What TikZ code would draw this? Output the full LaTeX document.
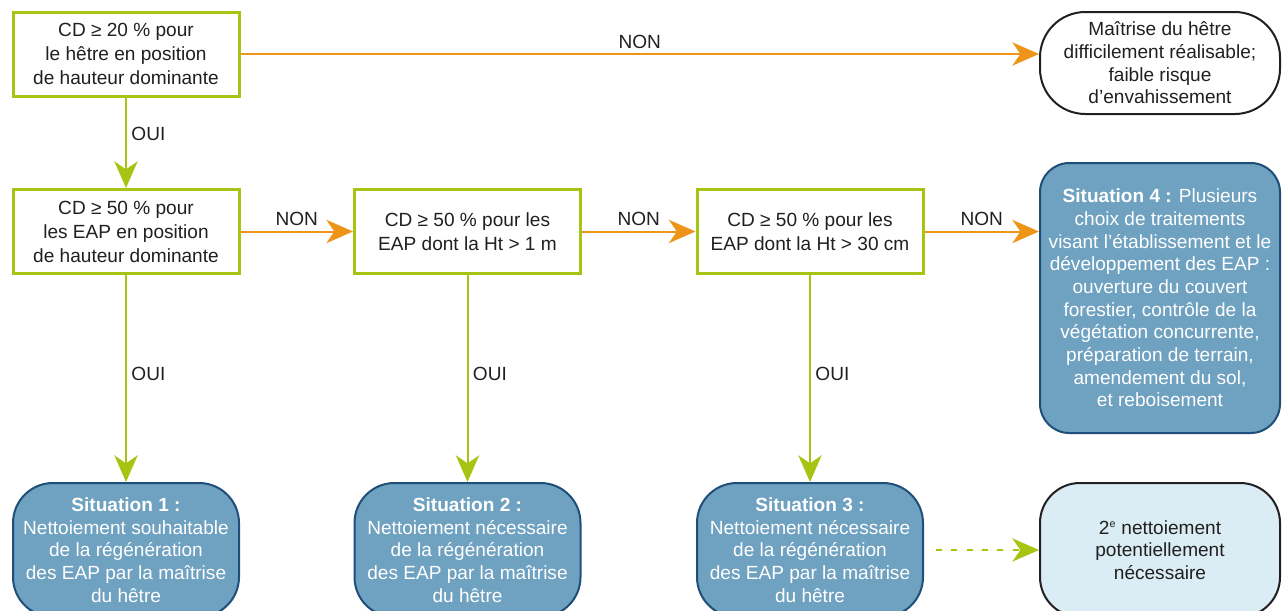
\documentclass[tikz,border=0pt]{standalone}
\usepackage{fontspec}
\setmainfont{Liberation Sans}
\usetikzlibrary{arrows.meta}
\definecolor{vert}{RGB}{168,196,18}
\definecolor{orangenon}{RGB}{238,148,24}
\definecolor{bleusit}{RGB}{111,161,192}
\definecolor{bleubord}{RGB}{31,78,121}
\definecolor{bleuclair}{RGB}{218,237,245}
\definecolor{texte}{RGB}{35,31,32}
\tikzset{
	police/.style={font=\fontsize{14.3}{18}\selectfont},
	serre/.style={font=\fontsize{14.3}{17}\selectfont},
	critere/.style={police, draw=vert, line width=2.25pt, fill=white, text=texte, align=center, inner sep=0pt, minimum width=169.5pt, minimum height=63pt},
	situation/.style={serre, draw=bleubord, line width=1.5pt, fill=bleusit, text=white, align=center, inner sep=0pt, rounded corners=30pt, minimum width=169.5pt, minimum height=100.5pt},
	issue/.style={serre, draw=texte, line width=1.5pt, text=texte, align=center, inner sep=0pt, minimum width=180pt},
	fleche/.style={line width=1.5pt, -{Stealth[length=20pt,width=17.5pt,inset=6pt]}},
	oui/.style={fleche, draw=vert, fill=vert},
	non/.style={fleche, draw=orangenon, fill=orangenon},
	etiquette/.style={police, text=texte},
}
\begin{document}
\begin{tikzpicture}[x=0.75pt, y=-0.75pt]
	\useasboundingbox (0,0) rectangle (1283,611);
	\clip (0,0) rectangle (1283,611);

	% criteres
	\node[critere] (hetre) at (126,54) {CD ≥ 20 \% pour\\le hêtre en position\\de hauteur dominante};
	\node[critere] (eap) at (126,231.5) {CD ≥ 50 \% pour\\les EAP en position\\de hauteur dominante};
	\node[critere] (unm) at (467.5,231.5) {CD ≥ 50 \% pour les\\EAP dont la Ht > 1 m};
	\node[critere] (trente) at (810,231.5) {CD ≥ 50 \% pour les\\EAP dont la Ht > 30 cm};

	% issues
	\node[issue, rounded corners=34pt, minimum height=76.5pt] (difficile) at (1160,63) {Maîtrise du hêtre\\difficilement réalisable;\\faible risque\\d’envahissement};
	\node[situation, rounded corners=22pt, minimum width=180pt, minimum height=202.5pt] (sit4) at (1160,298) {\textbf{Situation 4 :} Plusieurs\\choix de traitements\\visant l’établissement et le\\développement des EAP :\\ouverture du couvert\\forestier, contrôle de la\\végétation concurrente,\\préparation de terrain,\\amendement du sol,\\et reboisement};
	\node[situation] (sit1) at (126,550) {\textbf{Situation 1 :}\\Nettoiement souhaitable\\de la régénération\\des EAP par la maîtrise\\du hêtre};
	\node[situation] (sit2) at (467.5,550) {\textbf{Situation 2 :}\\Nettoiement nécessaire\\de la régénération\\des EAP par la maîtrise\\du hêtre};
	\node[situation] (sit3) at (810,550) {\textbf{Situation 3 :}\\Nettoiement nécessaire\\de la régénération\\des EAP par la maîtrise\\du hêtre};
	\node[issue, fill=bleuclair, rounded corners=30pt, minimum height=100.5pt] (second) at (1160,550) {2\textsuperscript{\fontsize{8}{8}\selectfont e} nettoiement\\potentiellement\\nécessaire};

	% NON
	\draw[non] (hetre.east) -- (hetre.east -| difficile.west) node[etiquette, midway, above] {NON};
	\draw[non] (eap.east) -- (unm.west) node[etiquette, midway, above] {NON};
	\draw[non] (unm.east) -- (trente.west) node[etiquette, midway, above] {NON};
	\draw[non] (trente.east) -- (trente.east -| sit4.west) node[etiquette, midway, above] {NON};

	% OUI
	\draw[oui] (hetre.south) -- (eap.north) node[etiquette, pos=0.4, right] {OUI};
	\draw[oui] (eap.south) -- (sit1.north) node[etiquette, pos=0.48, right] {OUI};
	\draw[oui] (unm.south) -- (sit2.north) node[etiquette, pos=0.48, right] {OUI};
	\draw[oui] (trente.south) -- (sit3.north) node[etiquette, pos=0.48, right] {OUI};

	% suite
	\draw[oui, dash pattern=on 4.5pt off 7pt, shorten <=9pt] (sit3.east) -- (second.west);
\end{tikzpicture}
\end{document}
